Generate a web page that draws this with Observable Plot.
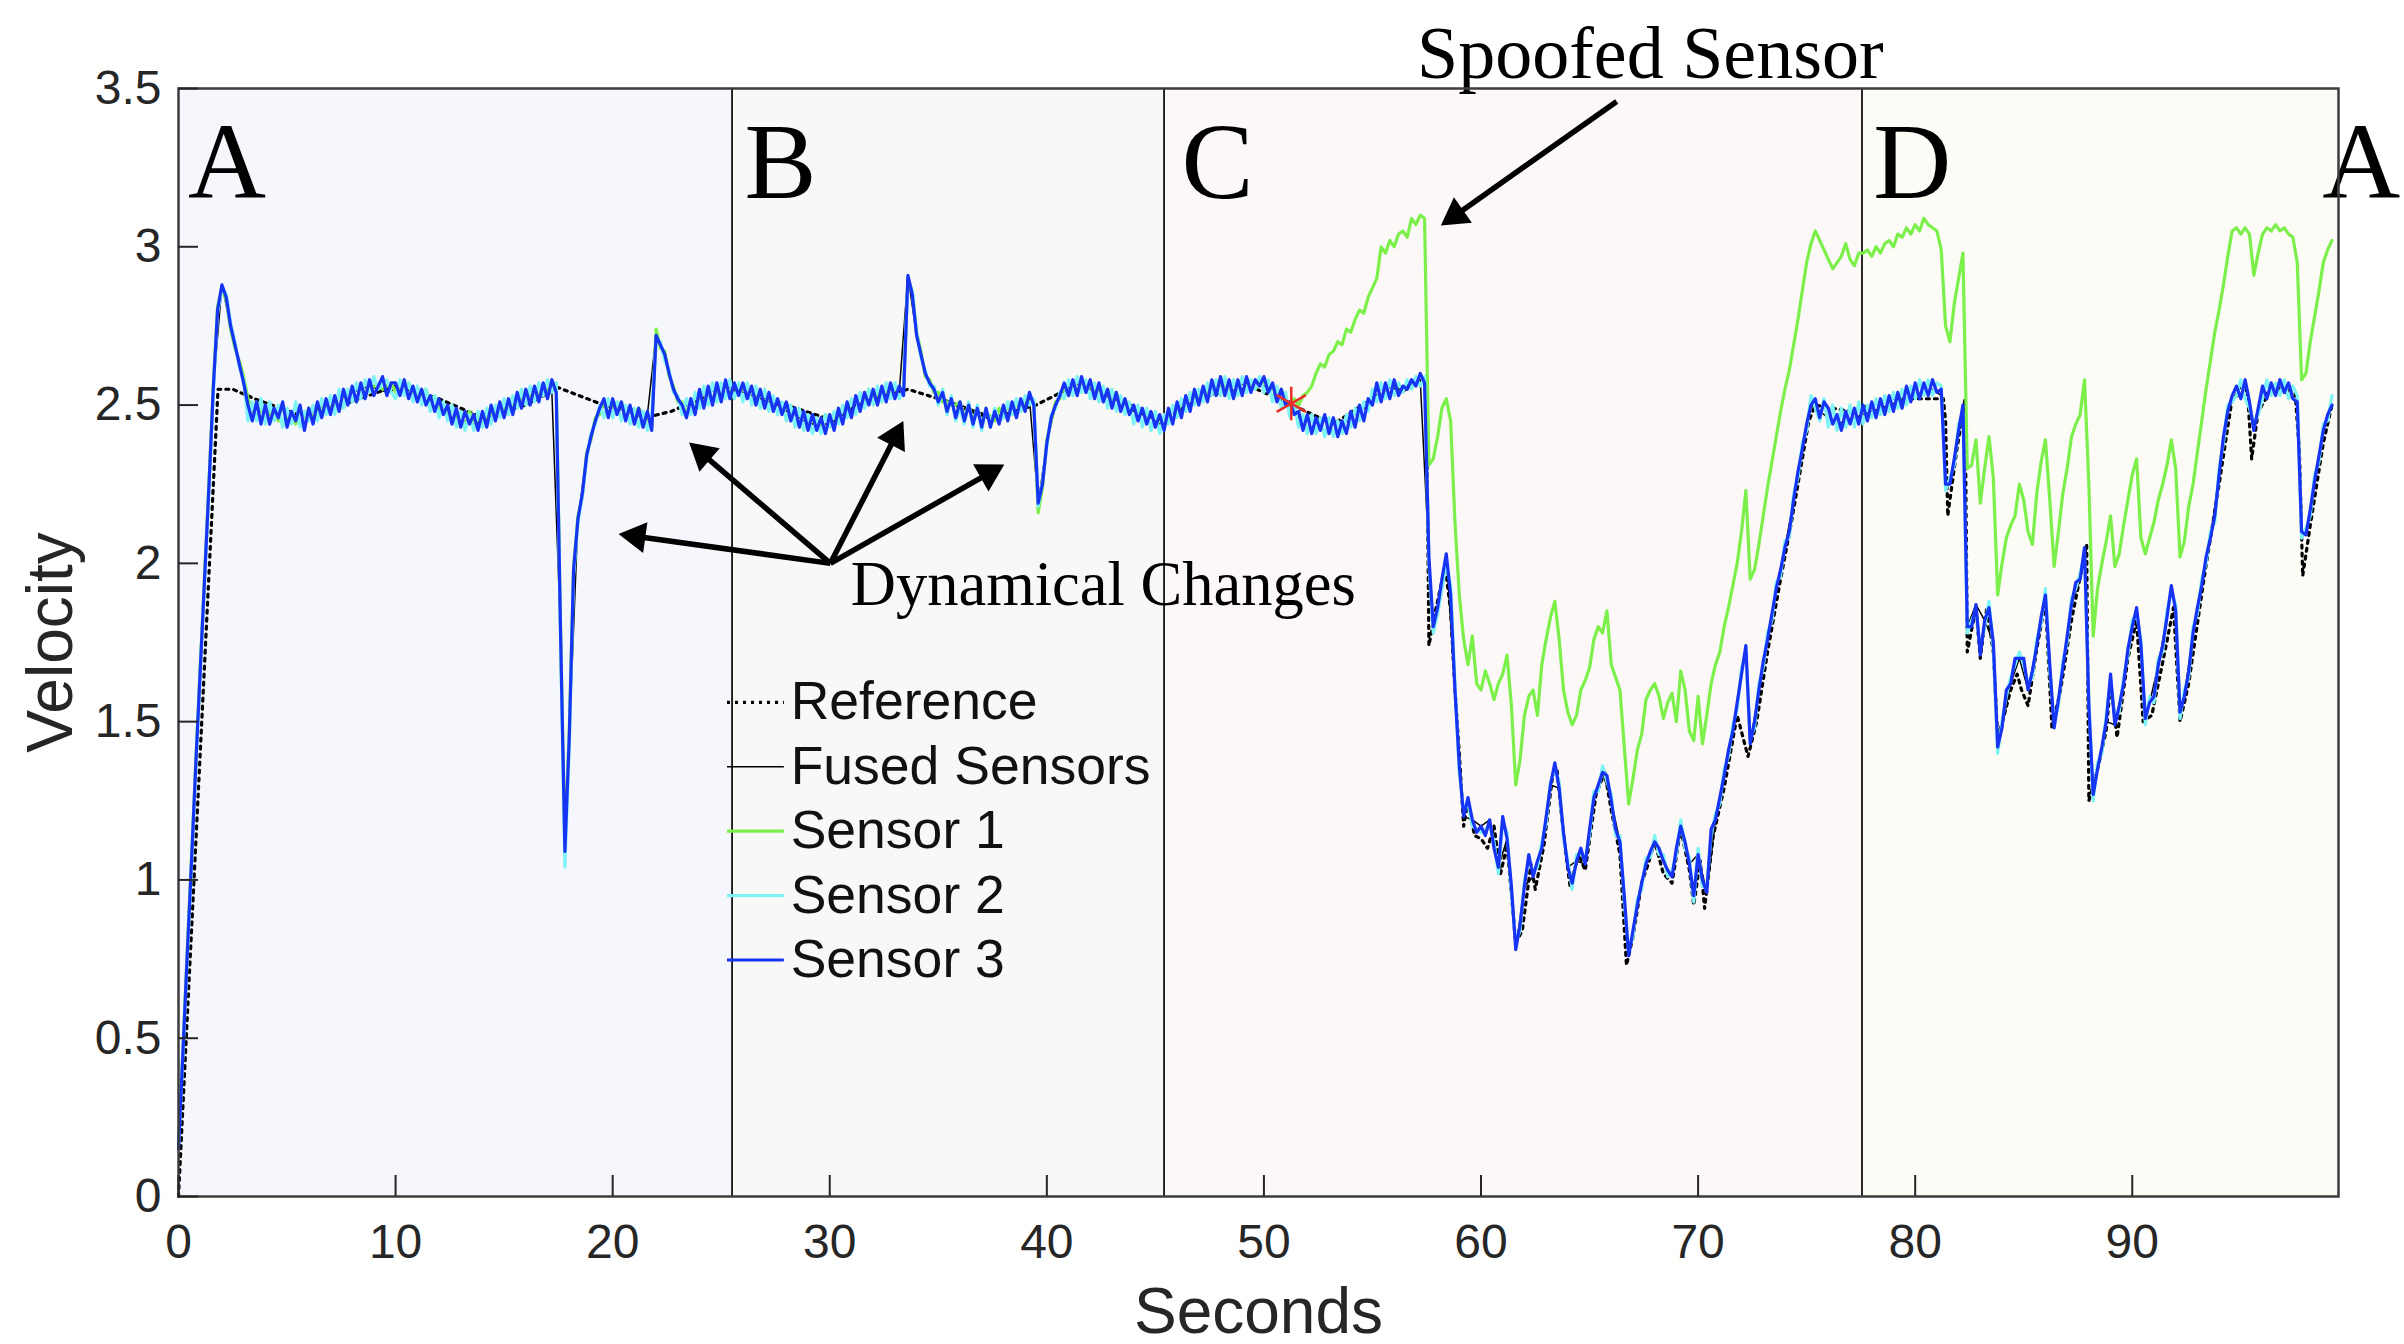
<!DOCTYPE html>
<html>
<head>
<meta charset="utf-8">
<script src="https://cdn.jsdelivr.net/npm/d3@7"></script>
<script src="https://cdn.jsdelivr.net/npm/@observablehq/plot@0.6"></script>
<style>
html, body { margin: 0; padding: 0; background: #fff; }
#chart { width: 2404px; height: 1344px; }
</style>
</head>
<body>
<div id="chart"></div>
<script>
// ---------------- DATA ----------------
const sampleStep = 0.2;      // seconds between sensor samples
const fusedStep = 0.4;       // seconds between regular fused samples

// Sensor 3 (blue)
const sensor3 = [
0.15,0.45,0.76,1.06,1.37,1.66,1.95,2.24,2.55,2.80,
2.88,2.84,2.75,2.69,2.63,2.57,2.50,2.45,2.51,2.44,
2.50,2.44,2.49,2.46,2.51,2.43,2.48,2.45,2.50,2.42,
2.49,2.44,2.51,2.46,2.52,2.47,2.53,2.48,2.55,2.50,
2.56,2.51,2.57,2.52,2.58,2.53,2.56,2.59,2.53,2.57,
2.57,2.53,2.58,2.52,2.56,2.51,2.55,2.50,2.53,2.48,
2.52,2.47,2.50,2.44,2.49,2.43,2.48,2.44,2.47,2.42,
2.48,2.43,2.50,2.45,2.51,2.46,2.52,2.47,2.54,2.49,
2.55,2.50,2.56,2.51,2.57,2.52,2.58,2.54,1.78,1.09,
1.45,1.98,2.14,2.22,2.34,2.40,2.45,2.49,2.52,2.46,
2.52,2.47,2.51,2.45,2.50,2.44,2.49,2.43,2.48,2.42,
2.72,2.69,2.66,2.60,2.55,2.52,2.50,2.46,2.52,2.47,
2.55,2.49,2.56,2.50,2.57,2.51,2.58,2.52,2.57,2.53,
2.57,2.52,2.56,2.50,2.55,2.49,2.54,2.48,2.52,2.47,
2.51,2.45,2.49,2.43,2.48,2.42,2.47,2.42,2.46,2.41,
2.47,2.42,2.49,2.44,2.51,2.46,2.53,2.48,2.54,2.50,
2.55,2.50,2.56,2.51,2.57,2.52,2.56,2.53,2.91,2.85,
2.72,2.66,2.60,2.57,2.55,2.51,2.54,2.48,2.52,2.46,
2.51,2.45,2.50,2.44,2.49,2.43,2.49,2.43,2.48,2.44,
2.50,2.45,2.51,2.46,2.52,2.48,2.54,2.50,2.19,2.25,
2.38,2.46,2.50,2.53,2.57,2.53,2.58,2.53,2.59,2.54,
2.58,2.52,2.57,2.51,2.55,2.49,2.54,2.48,2.52,2.47,
2.50,2.45,2.49,2.44,2.48,2.43,2.47,2.42,2.49,2.44,
2.51,2.46,2.53,2.48,2.55,2.50,2.56,2.51,2.58,2.53,
2.59,2.53,2.58,2.52,2.58,2.53,2.59,2.54,2.58,2.56,
2.59,2.54,2.57,2.51,2.55,2.50,2.51,2.47,2.48,2.42,
2.47,2.41,2.46,2.42,2.47,2.41,2.46,2.40,2.45,2.41,
2.48,2.43,2.50,2.45,2.52,2.50,2.57,2.51,2.57,2.52,
2.58,2.53,2.56,2.55,2.58,2.56,2.60,2.57,2.02,1.80,
1.86,1.95,2.03,1.90,1.60,1.36,1.20,1.26,1.19,1.15,
1.17,1.14,1.19,1.10,1.04,1.20,1.13,0.98,0.78,0.86,
0.98,1.08,1.01,1.06,1.10,1.20,1.30,1.37,1.29,1.15,
1.04,0.99,1.06,1.10,1.05,1.16,1.26,1.30,1.34,1.33,
1.25,1.16,1.12,0.95,0.76,0.84,0.92,0.99,1.05,1.09,
1.12,1.10,1.06,1.03,1.01,1.10,1.17,1.12,1.05,0.95,
1.08,1.00,0.96,1.16,1.19,1.26,1.33,1.41,1.47,1.56,
1.65,1.74,1.43,1.50,1.60,1.69,1.76,1.84,1.92,1.98,
2.05,2.10,2.20,2.29,2.36,2.44,2.50,2.52,2.46,2.51,
2.49,2.44,2.47,2.42,2.48,2.44,2.49,2.44,2.50,2.45,
2.51,2.46,2.52,2.47,2.53,2.48,2.54,2.49,2.56,2.51,
2.57,2.52,2.57,2.53,2.58,2.54,2.55,2.25,2.25,2.33,
2.42,2.50,1.80,1.80,1.87,1.71,1.82,1.86,1.75,1.42,
1.48,1.60,1.62,1.70,1.70,1.70,1.60,1.66,1.74,1.83,
1.90,1.68,1.48,1.57,1.67,1.77,1.87,1.94,1.95,2.05,
1.55,1.27,1.35,1.42,1.50,1.65,1.49,1.55,1.62,1.73,
1.80,1.86,1.74,1.51,1.56,1.58,1.68,1.74,1.83,1.93,
1.85,1.53,1.58,1.66,1.78,1.86,1.93,2.02,2.08,2.15,
2.28,2.40,2.48,2.53,2.56,2.52,2.58,2.51,2.42,2.49,
2.56,2.52,2.57,2.53,2.58,2.54,2.57,2.52,2.51,2.10,
2.09,2.17,2.26,2.34,2.42,2.47,2.50
];

// Sensor 2 (cyan)
const sensor2 = [
0.16,0.44,0.75,1.05,1.36,1.66,1.94,2.23,2.53,2.79,
2.87,2.85,2.76,2.70,2.62,2.58,2.45,2.51,2.45,2.52,
2.44,2.51,2.45,2.50,2.43,2.49,2.44,2.51,2.43,2.48,
2.45,2.50,2.45,2.52,2.47,2.53,2.47,2.55,2.49,2.55,
2.51,2.57,2.52,2.58,2.54,2.59,2.55,2.57,2.58,2.54,
2.52,2.58,2.53,2.57,2.51,2.56,2.50,2.55,2.48,2.53,
2.46,2.51,2.45,2.50,2.43,2.48,2.42,2.47,2.42,2.48,
2.43,2.49,2.44,2.50,2.46,2.52,2.47,2.53,2.49,2.55,
2.50,2.56,2.51,2.57,2.53,2.58,2.54,2.57,1.76,1.04,
1.42,1.96,2.13,2.21,2.33,2.41,2.44,2.50,2.46,2.52,
2.46,2.51,2.45,2.50,2.44,2.49,2.43,2.48,2.42,2.47,
2.70,2.70,2.64,2.61,2.54,2.53,2.47,2.52,2.47,2.54,
2.49,2.56,2.50,2.57,2.51,2.57,2.52,2.58,2.52,2.57,
2.51,2.57,2.50,2.56,2.49,2.55,2.48,2.53,2.47,2.51,
2.45,2.50,2.43,2.49,2.42,2.47,2.41,2.46,2.41,2.47,
2.43,2.48,2.44,2.50,2.46,2.52,2.47,2.54,2.49,2.55,
2.50,2.56,2.51,2.57,2.52,2.57,2.52,2.55,2.89,2.86,
2.73,2.65,2.61,2.56,2.56,2.50,2.55,2.47,2.53,2.45,
2.49,2.44,2.51,2.43,2.50,2.42,2.49,2.44,2.49,2.45,
2.46,2.51,2.47,2.52,2.48,2.53,2.50,2.52,2.18,2.26,
2.37,2.47,2.49,2.54,2.52,2.58,2.53,2.59,2.54,2.58,
2.52,2.57,2.51,2.56,2.49,2.55,2.48,2.53,2.47,2.51,
2.44,2.50,2.43,2.49,2.42,2.48,2.41,2.47,2.44,2.50,
2.46,2.52,2.48,2.54,2.50,2.55,2.51,2.57,2.53,2.58,
2.53,2.59,2.52,2.58,2.53,2.59,2.54,2.58,2.55,2.59,
2.54,2.58,2.51,2.56,2.49,2.54,2.46,2.50,2.43,2.47,
2.41,2.47,2.41,2.46,2.40,2.46,2.40,2.45,2.41,2.47,
2.43,2.49,2.45,2.51,2.48,2.55,2.51,2.57,2.52,2.58,
2.53,2.57,2.54,2.58,2.55,2.59,2.56,2.59,2.00,1.78,
1.84,1.92,2.00,1.93,1.62,1.34,1.22,1.24,1.17,1.16,
1.15,1.16,1.17,1.12,1.02,1.18,1.15,0.96,0.80,0.84,
1.00,1.06,1.03,1.04,1.12,1.18,1.31,1.35,1.31,1.13,
1.06,0.97,1.08,1.08,1.07,1.14,1.28,1.28,1.36,1.31,
1.27,1.14,1.14,0.93,0.78,0.82,0.94,0.97,1.07,1.07,
1.14,1.08,1.08,1.01,1.03,1.08,1.19,1.10,1.07,0.93,
1.10,0.98,0.98,1.14,1.21,1.24,1.35,1.39,1.49,1.54,
1.67,1.72,1.45,1.48,1.62,1.67,1.78,1.82,1.94,1.96,
2.07,2.08,2.22,2.27,2.38,2.42,2.53,2.49,2.45,2.52,
2.43,2.50,2.42,2.49,2.43,2.50,2.43,2.51,2.44,2.50,
2.46,2.52,2.47,2.53,2.48,2.54,2.49,2.55,2.50,2.56,
2.52,2.58,2.53,2.58,2.53,2.57,2.56,2.23,2.27,2.31,
2.44,2.48,1.78,1.82,1.85,1.73,1.80,1.88,1.73,1.40,
1.50,1.58,1.64,1.68,1.72,1.68,1.62,1.64,1.76,1.81,
1.92,1.66,1.50,1.55,1.69,1.75,1.89,1.92,1.97,2.03,
1.57,1.25,1.37,1.40,1.52,1.63,1.51,1.53,1.64,1.71,
1.82,1.84,1.76,1.49,1.58,1.56,1.70,1.72,1.85,1.91,
1.87,1.51,1.60,1.64,1.80,1.84,1.95,2.00,2.10,2.13,
2.30,2.38,2.50,2.51,2.53,2.58,2.52,2.49,2.44,2.47,
2.52,2.58,2.53,2.57,2.53,2.58,2.52,2.56,2.53,2.08,
2.11,2.15,2.28,2.32,2.44,2.45,2.53
];

// Sensor 1 (green, spoofed after ~51 s)
const sensor1 = [
0.17,0.46,0.77,1.07,1.38,1.67,1.96,2.25,2.56,2.81,
2.87,2.83,2.74,2.68,2.64,2.59,2.52,2.48,2.51,2.48,
2.50,2.47,2.49,2.45,2.50,2.45,2.47,2.44,2.48,2.46,
2.49,2.46,2.48,2.48,2.51,2.49,2.51,2.48,2.54,2.52,
2.55,2.51,2.56,2.54,2.55,2.56,2.56,2.55,2.56,2.57,
2.54,2.56,2.55,2.57,2.54,2.54,2.53,2.55,2.51,2.53,
2.48,2.50,2.48,2.48,2.46,2.47,2.43,2.48,2.45,2.46,
2.44,2.47,2.47,2.48,2.48,2.49,2.49,2.50,2.51,2.52,
2.52,2.53,2.53,2.54,2.54,2.55,2.55,2.57,1.79,1.11,
1.47,1.99,2.15,2.21,2.35,2.39,2.46,2.47,2.51,2.47,
2.50,2.49,2.51,2.47,2.48,2.47,2.49,2.46,2.46,2.43,
2.74,2.68,2.67,2.59,2.56,2.51,2.51,2.47,2.52,2.48,
2.54,2.50,2.55,2.51,2.56,2.52,2.57,2.53,2.56,2.56,
2.55,2.55,2.54,2.54,2.53,2.53,2.52,2.52,2.51,2.50,
2.49,2.49,2.48,2.47,2.46,2.46,2.45,2.45,2.43,2.47,
2.45,2.46,2.47,2.48,2.49,2.50,2.51,2.53,2.50,2.55,
2.53,2.53,2.54,2.54,2.55,2.55,2.55,2.56,2.90,2.86,
2.73,2.67,2.59,2.58,2.54,2.54,2.51,2.51,2.50,2.50,
2.51,2.46,2.50,2.45,2.49,2.44,2.48,2.46,2.45,2.49,
2.46,2.50,2.47,2.51,2.48,2.52,2.51,2.51,2.16,2.24,
2.39,2.45,2.51,2.52,2.56,2.53,2.57,2.54,2.58,2.54,
2.57,2.53,2.56,2.52,2.55,2.50,2.54,2.49,2.52,2.48,
2.49,2.49,2.48,2.47,2.47,2.46,2.45,2.45,2.47,2.48,
2.49,2.50,2.51,2.52,2.52,2.53,2.54,2.54,2.55,2.56,
2.56,2.56,2.57,2.53,2.57,2.54,2.56,2.56,2.55,2.57,
2.57,2.56,2.56,2.52,2.55,2.51,2.51,2.52,2.50,2.53,
2.54,2.56,2.60,2.63,2.62,2.66,2.67,2.70,2.69,2.74,
2.73,2.77,2.80,2.79,2.84,2.87,2.90,3.00,2.98,3.02,
3.00,3.04,3.05,3.03,3.09,3.07,3.10,3.09,2.31,2.33,
2.40,2.49,2.52,2.45,2.13,1.90,1.76,1.68,1.77,1.62,
1.60,1.66,1.62,1.57,1.62,1.65,1.71,1.55,1.30,1.38,
1.52,1.58,1.60,1.52,1.68,1.76,1.83,1.88,1.76,1.60,
1.53,1.49,1.52,1.60,1.63,1.67,1.76,1.80,1.78,1.85,
1.68,1.64,1.60,1.42,1.24,1.32,1.41,1.46,1.57,1.60,
1.62,1.58,1.51,1.56,1.59,1.50,1.66,1.60,1.47,1.44,
1.58,1.43,1.52,1.62,1.68,1.72,1.80,1.86,1.93,2.00,
2.10,2.23,1.95,1.98,2.06,2.15,2.24,2.32,2.40,2.48,
2.55,2.61,2.69,2.77,2.86,2.95,3.01,3.05,3.02,2.99,
2.96,2.93,2.95,2.97,3.01,2.96,2.94,2.98,2.98,2.99,
2.97,3.00,2.98,3.01,3.02,3.00,3.04,3.03,3.06,3.04,
3.07,3.05,3.09,3.07,3.06,3.05,2.99,2.75,2.70,2.82,
2.90,2.98,2.30,2.31,2.39,2.19,2.30,2.40,2.27,1.90,
2.00,2.08,2.12,2.15,2.25,2.20,2.10,2.06,2.22,2.32,
2.39,2.20,1.99,2.10,2.22,2.30,2.40,2.44,2.47,2.58,
2.25,1.77,1.92,2.00,2.07,2.15,1.99,2.03,2.12,2.20,
2.28,2.33,2.08,2.03,2.08,2.13,2.20,2.25,2.31,2.39,
2.30,2.02,2.07,2.18,2.25,2.35,2.45,2.55,2.64,2.73,
2.80,2.88,2.97,3.05,3.06,3.04,3.06,3.04,2.91,2.98,
3.04,3.06,3.05,3.07,3.05,3.06,3.04,3.03,2.95,2.58,
2.60,2.70,2.78,2.86,2.95,2.99,3.02
];

// Fused sensors (black solid), regular samples every 0.4 s
const fused = [
0.15,0.76,1.37,1.95,2.55, 2.88,2.75,2.63,2.50,2.50,
2.49,2.48,2.49,2.48,2.47, 2.48,2.49,2.50,2.52,2.53,
2.54,2.55,2.56,2.55,2.54, 2.55,2.54,2.53,2.52,2.50,
2.49,2.47,2.45,2.45,2.44, 2.45,2.46,2.47,2.48,2.50,
2.51,2.52,2.53,2.54,1.78, 1.45,2.14,2.34,2.45,2.50,
2.51,2.50,2.49,2.48,2.47, 2.72,2.66,2.55,2.50,2.51,
2.53,2.54,2.55,2.56,2.55, 2.54,2.53,2.52,2.51,2.50,
2.48,2.47,2.45,2.44,2.44, 2.44,2.46,2.48,2.50,2.51,
2.52,2.53,2.54,2.54,2.91, 2.72,2.60,2.55,2.52,2.51,
2.50,2.49,2.48,2.47,2.46, 2.47,2.48,2.49,2.52,2.19,
2.38,2.50,2.55,2.56,2.57, 2.56,2.55,2.54,2.53,2.51,
2.48,2.47,2.46,2.44,2.48, 2.50,2.52,2.53,2.55,2.56,
2.57,2.56,2.56,2.57,2.56, 2.56,2.55,2.54,2.50,2.46,
2.46,2.45,2.46,2.45,2.44, 2.46,2.48,2.50,2.55,2.55,
2.56,2.54,2.56,2.58,2.02, 1.86,2.03,1.60,1.20,1.19,
1.17,1.19,1.04,1.13,0.78, 0.98,1.01,1.10,1.30,1.29,
1.04,1.06,1.05,1.26,1.34, 1.25,1.12,0.76,0.92,1.05,
1.12,1.06,1.01,1.17,1.05, 1.08,0.96,1.19,1.33,1.47,
1.65,1.43,1.60,1.76,1.92, 2.05,2.20,2.36,2.50,2.48,
2.46,2.44,2.45,2.46,2.47, 2.48,2.49,2.50,2.51,2.52,
2.53,2.54,2.55,2.53,2.25, 2.42,1.80,1.87,1.82,1.75,
1.48,1.62,1.70,1.60,1.74, 1.90,1.48,1.67,1.87,1.95,
1.55,1.35,1.50,1.49,1.62, 1.80,1.74,1.56,1.68,1.83,
1.85,1.58,1.78,1.93,2.08, 2.28,2.48,2.54,2.57,2.42,
2.54,2.54,2.55,2.53,2.51, 2.09,2.26,2.42,2.50
];
// Fused sensors: extra samples at the sharp turning points
const fusedExtraT = [17.8, 57.8, 72.2, 81.4, 82.2, 83.8, 87.8, 88.2, 90.2, 90.6, 91.8, 92.2, 97.8];
const fusedExtraV = [1.09, 1.80, 1.74, 2.25, 2.50, 1.42, 2.05, 1.27, 1.86, 1.51, 1.93, 1.53, 2.10];

// Reference trajectory (dotted), time / value pairs
const referenceT = [0,1.82,2.5,3.5,5.5,7.5,10,12,14,16,17.5,19.4,21.5,22.7,24,26,28,30,32,33.6,35,37.3,39.5,40.8,42,43.5,45.4,47.3,49.5,51.3,53.2,55.2,57.4,
57.5,57.6,57.9,58.35,58.6,58.8,59.0,59.2,59.4,59.7,60.0,60.3,60.6,60.9,61.2,61.6,61.9,62.3,62.5,62.9,63.3,63.5,63.8,64.1,64.5,64.8,65.3,65.7,66.0,66.4,66.7,67.0,67.4,67.7,68.0,68.4,68.8,69.2,69.6,69.8,70.1,70.3,70.7,71.2,71.8,72.3,72.7,73.2,73.8,74.3,75.1,75.4,
77,79,81.3,81.4,81.5,81.9,82.3,82.4,82.8,83.0,83.3,83.6,83.8,84.1,84.4,84.7,84.9,85.2,85.6,86.0,86.3,86.7,87.2,87.9,88.0,88.4,88.8,89.0,89.3,89.8,90.2,90.5,90.9,91.5,91.9,92.2,92.6,93.3,94.0,94.6,95.3,95.5,95.8,96.5,97.5,97.7,97.85,98.2,98.8,99.2];
const referenceV = [0,2.55,2.55,2.52,2.47,2.50,2.56,2.52,2.46,2.50,2.555,2.505,2.46,2.48,2.52,2.55,2.50,2.455,2.52,2.55,2.52,2.46,2.50,2.545,2.55,2.51,2.455,2.53,2.555,2.50,2.44,2.53,2.58,
2.45,1.74,1.85,1.99,1.85,1.60,1.40,1.17,1.25,1.14,1.13,1.10,1.17,1.02,1.11,0.80,0.84,1.05,0.97,1.11,1.33,1.35,1.14,0.98,1.08,1.03,1.27,1.34,1.22,1.08,0.73,0.82,0.99,1.05,1.12,1.02,0.99,1.16,1.03,0.92,1.06,0.91,1.14,1.29,1.52,1.39,1.50,1.72,1.95,2.13,2.45,2.50,
2.48,2.52,2.52,2.45,2.15,2.35,2.52,1.72,1.86,1.70,1.86,1.72,1.45,1.52,1.60,1.65,1.60,1.55,1.73,1.88,1.48,1.60,1.82,2.06,1.25,1.35,1.47,1.62,1.45,1.70,1.82,1.50,1.52,1.72,1.86,1.50,1.62,1.95,2.25,2.52,2.55,2.33,2.48,2.56,2.54,2.35,1.96,2.12,2.38,2.50];

// Spoof detection point (red star)
const detectionT = [51.26];
const detectionV = [2.505];

// Regions, ticks, legend
const regionNames = ["A", "B", "C", "D"];
const regionStart = [0, 25.5, 45.4, 77.55];
const regionEnd = [25.5, 45.4, 77.55, 99.5];
const regionLetters = ["A", "B", "C", "D", "A"];
const xTicks = [0, 10, 20, 30, 40, 50, 60, 70, 80, 90];
const yTicks = [0, 0.5, 1, 1.5, 2, 2.5, 3, 3.5];
const yTickLabels = ["0", "0.5", "1", "1.5", "2", "2.5", "3", "3.5"];
const legendLabels = ["Reference", "Fused Sensors", "Sensor 1", "Sensor 2", "Sensor 3"];

// ---------------- LAYOUT / STYLE ----------------
const W = 2404, H = 1344;
const mL = 178, mR = 66, mT = 88, mB = 148;
const plotW = W - mL - mR, plotH = H - mT - mB;
const xDomain = [0, 99.5], yDomain = [0, 3.5];
const kx = plotW / (xDomain[1] - xDomain[0]);
const ky = plotH / (yDomain[1] - yDomain[0]);
const regionFill = ["#f5f7fc", "#f8f8f7", "#fcf8f7", "#fcfbf6"];
const letterX = [0.44, 26.07, 46.2, 78.07, 102.35];
const letterAnchor = ["start", "start", "start", "start", "end"];
const letterY = 3.155;
const seriesStyle = {
  "Reference": {stroke: "#000", strokeWidth: 3.2, strokeDasharray: "3,5"},
  "Fused Sensors": {stroke: "#000", strokeWidth: 1.5},
  "Sensor 1": {stroke: "#7cef4b", strokeWidth: 3.2},
  "Sensor 2": {stroke: "#7ef3f5", strokeWidth: 3.2},
  "Sensor 3": {stroke: "#1733f4", strokeWidth: 3.2}
};
const legendX1 = 25.29, legendX2 = 27.91, legendTextX = 28.2;
const legendY0 = 1.561, legendDy = 0.2035;
const serif = "'Liberation Serif', 'Times New Roman', serif";
const sans = "'Liberation Sans', Arial, Helvetica, sans-serif";
const ink = "#262626";
const headLen = 27;

// annotation arrows (data coordinates)
const spoofArrows = [{x1: 66.25, y1: 3.459, x2: 58.15, y2: 3.067}];
const dynArrows = [
  {x1: 30.03, y1: 2.0, x2: 20.27, y2: 2.093},
  {x1: 30.03, y1: 2.0, x2: 23.52, y2: 2.382},
  {x1: 30.03, y1: 2.0, x2: 33.39, y2: 2.45},
  {x1: 30.03, y1: 2.0, x2: 38.04, y2: 2.312}
];

// ---------------- BUILD ----------------
const toRows = (vals, step) => vals.map((v, i) => ({t: +(i * step).toFixed(2), v}));
const s1 = toRows(sensor1, sampleStep);
const s2 = toRows(sensor2, sampleStep);
const s3 = toRows(sensor3, sampleStep);
const fu = toRows(fused, fusedStep)
  .concat(fusedExtraT.map((t, i) => ({t, v: fusedExtraV[i]})))
  .sort((a, b) => a.t - b.t);
const ref = referenceT.map((t, i) => ({t, v: referenceV[i]}));
const regions = regionNames.map((n, i) => ({name: n, x1: regionStart[i], x2: regionEnd[i], fill: regionFill[i]}));
const letters = regionLetters.map((l, i) => ({l, x: letterX[i], y: letterY, anchor: letterAnchor[i]}));
const detections = detectionT.map((t, i) => ({t, v: detectionV[i]}));

// arrow geometry: shaft + filled triangular head
const triY = headLen / 3;                       // d3 triangle: height = 3|y|
const triR = Math.sqrt(3 * Math.sqrt(3) * triY * triY / Math.PI);
function arrowParts(list) {
  const shafts = [], heads = [];
  list.forEach(a => {
    const dxp = (a.x2 - a.x1) * kx, dyp = -(a.y2 - a.y1) * ky;
    const L = Math.hypot(dxp, dyp), ux = dxp / L, uy = dyp / L;
    const back = d => ({x: a.x2 - ux * d / kx, y: a.y2 + uy * d / ky});
    const s = back(headLen * 0.75), c = back(2 * triY);
    shafts.push({x1: a.x1, y1: a.y1, x2: s.x, y2: s.y});
    heads.push({x: c.x, y: c.y, rot: Math.atan2(ux, -uy) * 180 / Math.PI});
  });
  return {shafts, heads};
}
const arrowsAll = arrowParts(spoofArrows.concat(dynArrows));

const marks = [];
regions.forEach(r => marks.push(Plot.rect([r], {x1: "x1", x2: "x2", y1: yDomain[0], y2: yDomain[1], fill: r.fill})));
marks.push(Plot.ruleX(regionStart.slice(1), {stroke: "#111", strokeWidth: 1.8}));

marks.push(Plot.line(ref, {x: "t", y: "v", ...seriesStyle["Reference"]}));
marks.push(Plot.line(fu, {x: "t", y: "v", ...seriesStyle["Fused Sensors"]}));
marks.push(Plot.line(s1, {x: "t", y: "v", ...seriesStyle["Sensor 1"]}));
marks.push(Plot.line(s2, {x: "t", y: "v", ...seriesStyle["Sensor 2"]}));
marks.push(Plot.line(s3, {x: "t", y: "v", ...seriesStyle["Sensor 3"]}));
marks.push(Plot.dot(detections, {x: "t", y: "v", symbol: "asterisk", r: 16, stroke: "#e8302a", strokeWidth: 2.5}));

// legend
legendLabels.forEach((lab, i) => {
  const y = legendY0 - i * legendDy;
  marks.push(Plot.ruleY([y], {x1: legendX1, x2: legendX2, ...seriesStyle[lab]}));
  marks.push(Plot.text([lab], {x: legendTextX, y, text: d => d, textAnchor: "start", lineAnchor: "middle", fontSize: 53.5, fontFamily: sans, fill: "#111"}));
});

// region letters
letters.forEach(L => marks.push(Plot.text([L], {x: "x", y: "y", text: "l", textAnchor: L.anchor, lineAnchor: "bottom", fontSize: 108, fontFamily: serif, fill: "#000"})));

// annotations
marks.push(Plot.text(["Spoofed Sensor"], {x: 67.8, y: 3.534, text: d => d, lineAnchor: "bottom", fontSize: 74, fontFamily: serif, fill: "#000"}));
marks.push(Plot.text(["Dynamical Changes"], {x: 42.6, y: 1.867, text: d => d, lineAnchor: "bottom", fontSize: 62.5, fontFamily: serif, fill: "#000"}));
marks.push(Plot.link(arrowsAll.shafts, {x1: "x1", y1: "y1", x2: "x2", y2: "y2", stroke: "#000", strokeWidth: 5.5}));
marks.push(Plot.dot(arrowsAll.heads, {x: "x", y: "y", rotate: "rot", symbol: "triangle", r: triR, fill: "#000", stroke: "none"}));

// frame, ticks, axes
marks.push(Plot.frame({stroke: "#3c3c3c", strokeWidth: 2.5}));
marks.push(Plot.tickX(xTicks, {x: d => d, insetTop: plotH - 21, stroke: ink, strokeWidth: 2}));
marks.push(Plot.tickY(yTicks, {y: d => d, insetRight: plotW - 20, stroke: ink, strokeWidth: 2}));
marks.push(Plot.axisX(xTicks, {tickSize: 0, tickPadding: 27, fontSize: 48, fontFamily: sans, label: null, tickFormat: d => String(d), fill: ink}));
marks.push(Plot.axisY(yTicks, {tickSize: 0, tickPadding: 17, fontSize: 48, fontFamily: sans, label: null, tickFormat: d => yTickLabels[yTicks.indexOf(d)], fill: ink}));
marks.push(Plot.text(["Velocity"], {frameAnchor: "left", dx: -127, rotate: -90, text: d => d, textAnchor: "middle", lineAnchor: "middle", fontSize: 64, fontFamily: sans, fill: ink}));
marks.push(Plot.text(["Seconds"], {frameAnchor: "bottom", dy: 116, text: d => d, textAnchor: "middle", lineAnchor: "middle", fontSize: 64, fontFamily: sans, fill: ink}));

const chart = Plot.plot({
  width: W, height: H,
  marginLeft: mL, marginRight: mR, marginTop: mT, marginBottom: mB,
  x: {domain: xDomain, label: null},
  y: {domain: yDomain, label: null},
  style: {fontFamily: sans, background: "#fff", overflow: "visible", color: ink},
  marks
});
document.getElementById("chart").appendChild(chart);
</script>
</body>
</html>
